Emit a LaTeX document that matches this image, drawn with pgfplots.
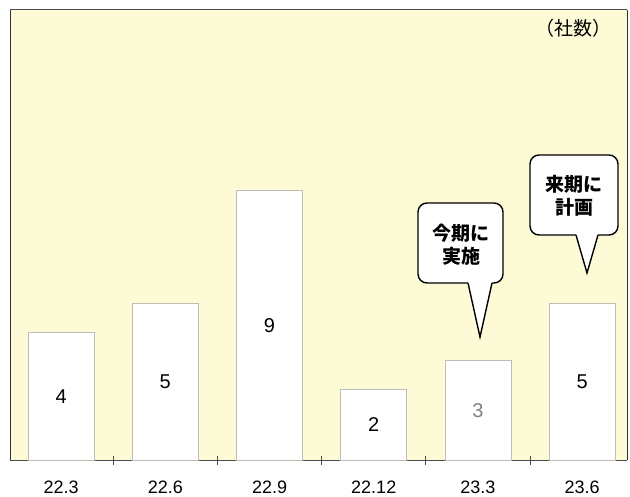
\documentclass[border=0pt]{standalone}
\usepackage{pgfplots}
\pgfplotsset{compat=1.18}
\usepackage{fontspec}
\setmainfont{Liberation Sans}
\newfontfamily\jp{Noto Sans CJK JP}
\definecolor{bgyellow}{RGB}{253,251,214}
\definecolor{barline}{RGB}{190,190,182}
\definecolor{framegray}{RGB}{150,150,145}
\begin{document}
\begin{tikzpicture}
  \begin{axis}[
    at={(0,0)}, anchor=south west,
    scale only axis,
    width=617bp, height=450bp,
    xmin=-0.49, xmax=5.43,
    % the bars of the original start half a unit below zero
    y coord trafo/.code={\pgfmathparse{#1+0.5}},
    y coord inv trafo/.code={\pgfmathparse{#1-0.5}},
    ymin=-0.5, ymax=15.35,
    axis background/.style={fill=bgyellow},
    axis line style={draw=framegray, line width=0.8pt},
    separate axis lines,
    x axis line style={draw=black!70, line width=1pt},
    y axis line style={draw=black!80},
    ytick=\empty,
    xtick pos=lower,
    xtick={0,...,5},
    xticklabels={22.3,22.6,22.9,22.12,23.3,23.6},
    major x tick style={draw=none},
    minor xtick={0.5,1.5,2.5,3.5,4.5},
    minor tick length=9bp,
    tick align=center,
    minor x tick style={draw=black!70, line width=0.8pt},
    x tick label style={font=\fontsize{18bp}{20bp}\selectfont, yshift=-15bp},
    ]
    \addplot[ybar, bar width=66bp, fill=white, draw=barline, line width=0.8pt]
      coordinates {(0,4) (1,5) (2,9) (3,2) (4,3) (5,5)};
    \node[font=\fontsize{20bp}{22bp}\selectfont] at (axis cs:0,1.75) {4};
    \node[font=\fontsize{20bp}{22bp}\selectfont] at (axis cs:1,2.25) {5};
    \node[font=\fontsize{20bp}{22bp}\selectfont] at (axis cs:2,4.25) {9};
    \node[font=\fontsize{20bp}{22bp}\selectfont] at (axis cs:3,0.75) {2};
    \node[font=\fontsize{20bp}{22bp}\selectfont, text=black!50] at (axis cs:4,1.25) {3};
    \node[font=\fontsize{20bp}{22bp}\selectfont] at (axis cs:5,2.25) {5};
  \end{axis}
  \begin{scope}[x=1bp, y=-1bp, shift={(-10bp,460bp)}]
    % callout 1
    \draw[line width=1.4pt, fill=white, rounded corners=9bp]
      (418,203) rectangle (503,283);
    \fill[white] (467.5,280) -- (480,337) -- (492.5,280) -- cycle;
    \draw[line width=1.4pt, line join=miter] (468,283) -- (480,337) -- (492,283);
    \node[font=\jp\bfseries\fontsize{19bp}{23bp}\selectfont, align=center]
      at (461,245) {今期に\\実施};
    % callout 2
    \draw[line width=1.4pt, fill=white, rounded corners=9bp]
      (530,155) rectangle (618,235);
    \fill[white] (575.5,232) -- (587,273) -- (598.5,232) -- cycle;
    \draw[line width=1.4pt, line join=miter] (576,235) -- (587,273) -- (598,235);
    \node[font=\jp\bfseries\fontsize{19bp}{23bp}\selectfont, align=center]
      at (574,196) {来期に\\計画};
    \node[font=\jp\fontsize{19bp}{21bp}\selectfont] at (573,28) {（社数）};
    \useasboundingbox (0,0) rectangle (630,494);
  \end{scope}
\end{tikzpicture}
\end{document}
